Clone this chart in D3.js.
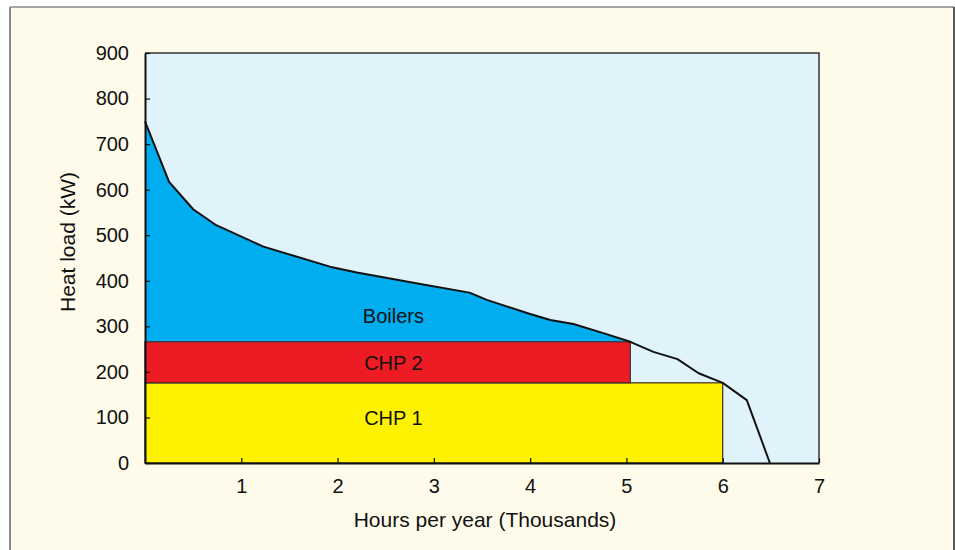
<!DOCTYPE html>
<html>
<head>
<meta charset="utf-8">
<script src="https://cdn.jsdelivr.net/npm/d3@7"></script>
<style>
  html, body { margin: 0; padding: 0; background: #fff; }
  svg { display: block; font-family: "Liberation Sans", Arial, sans-serif; }
</style>
</head>
<body>
<svg id="chart" width="955" height="550"></svg>
<script>
// ── Data ────────────────────────────────────────────────────────────────
// load duration curve: hours (thousands) vs heat load (kW)
const hours = [0, 0.25, 0.5, 0.74, 1.23, 1.92, 2.2, 2.86, 3.37, 3.55, 4.0, 4.21, 4.45, 4.76, 5.04, 5.28, 5.53, 5.75, 6.0, 6.25, 6.49];
const load  = [750, 617, 557, 522, 475, 431, 418, 393, 374, 358, 327, 314, 305, 285, 266, 244, 228, 197, 176, 138, 0];

// CHP units stacked from the bottom
const units  = ['CHP 1', 'CHP 2'];
const unitLo = [0, 176];
const unitHi = [176, 266];
const unitHours = [6.0, 5.04];
const unitColors = ['#fff200', '#ed1c24'];

// band labels (text, kW level where the label sits)
const bandLabels = ['CHP 1', 'CHP 2', 'Boilers'];
const bandLabelLoad = [99, 220, 323];

const xTicks = [1, 2, 3, 4, 5, 6, 7];
const yTicks = [0, 100, 200, 300, 400, 500, 600, 700, 800, 900];

// ── Layout ──────────────────────────────────────────────────────────────
const MARGIN = { top: 53, right: 136, bottom: 87, left: 145 };
const W = 955, H = 550;
const width = W - MARGIN.left - MARGIN.right;
const height = H - MARGIN.top - MARGIN.bottom;
const FONT = '20px';
const TITLE_FONT = '21px';

const svg = d3.select('#chart');

// frame
svg.append('rect')
  .attr('x', 11).attr('y', 7).attr('width', 942).attr('height', 560)
  .attr('fill', '#fffbea');
svg.append('line').attr('x1', 10).attr('x2', 954).attr('y1', 7).attr('y2', 7)
  .attr('stroke', '#8a8a8a').attr('stroke-width', 1.5);
svg.append('line').attr('x1', 10).attr('x2', 10).attr('y1', 7).attr('y2', 550)
  .attr('stroke', '#8a8a8a').attr('stroke-width', 2);
svg.append('line').attr('x1', 954).attr('x2', 954).attr('y1', 7).attr('y2', 550)
  .attr('stroke', '#222').attr('stroke-width', 1.5);

const g = svg.append('g').attr('transform', `translate(${MARGIN.left},${MARGIN.top})`);

const x = d3.scaleLinear().domain([0, 7]).range([0, width]);
const y = d3.scaleLinear().domain([0, 900]).range([height, 0]);

// plot background
g.append('rect').attr('width', width).attr('height', height).attr('fill', '#e0f3fa');

// boilers: area above the CHP band, up to the curve
const pts = hours.map((h, i) => ({ h, v: load[i] }));
const topBand = unitHi[unitHi.length - 1];
const boilerPts = pts.filter(d => d.h <= unitHours[1]);
g.append('path')
  .datum(boilerPts)
  .attr('fill', '#00adee')
  .attr('d', d3.area().x(d => x(d.h)).y0(y(topBand)).y1(d => y(d.v)));

// CHP bars
units.forEach((u, i) => {
  g.append('rect')
    .attr('x', x(0))
    .attr('y', y(unitHi[i]))
    .attr('width', x(unitHours[i]) - x(0))
    .attr('height', y(unitLo[i]) - y(unitHi[i]))
    .attr('fill', unitColors[i])
    .attr('stroke', '#3a2a2a')
    .attr('stroke-width', 1.2);
});

// curve
g.append('path')
  .datum(pts)
  .attr('fill', 'none')
  .attr('stroke', '#111')
  .attr('stroke-width', 2)
  .attr('stroke-linejoin', 'round')
  .attr('d', d3.line().x(d => x(d.h)).y(d => y(d.v)));

// plot border (top / right)
g.append('path')
  .attr('d', `M0,0H${width}V${height}`)
  .attr('fill', 'none').attr('stroke', '#333').attr('stroke-width', 1.5);

// axes — ticks point inward
const xAxis = g.append('g').attr('transform', `translate(0,${height})`)
  .call(d3.axisBottom(x).tickValues(xTicks).tickFormat(d3.format('d'))
    .tickSizeInner(-5).tickSizeOuter(0).tickPadding(16));
const yAxis = g.append('g')
  .call(d3.axisLeft(y).tickValues(yTicks).tickFormat(d3.format('d'))
    .tickSizeInner(-5).tickSizeOuter(0).tickPadding(16));

[xAxis, yAxis].forEach(ax => {
  ax.select('.domain').attr('stroke', '#111').attr('stroke-width', 2);
  ax.selectAll('.tick line').attr('stroke', '#111').attr('stroke-width', 1.2);
  ax.selectAll('text')
    .attr('fill', '#111')
    .attr('font-size', FONT)
    .attr('font-family', '"Liberation Sans", Arial, sans-serif');
});

// labels in the bands
const labelX = x(2.58);
bandLabels.forEach((t, i) => {
  g.append('text')
    .attr('x', labelX)
    .attr('y', y(bandLabelLoad[i]))
    .attr('text-anchor', 'middle').attr('dominant-baseline', 'central')
    .attr('font-size', FONT).attr('fill', '#111').text(t);
});

// axis titles
svg.append('text')
  .attr('x', 485).attr('y', 527)
  .attr('text-anchor', 'middle').attr('font-size', TITLE_FONT).attr('fill', '#111')
  .text('Hours per year (Thousands)');
svg.append('text')
  .attr('transform', 'translate(75,242) rotate(-90)')
  .attr('text-anchor', 'middle').attr('font-size', TITLE_FONT).attr('fill', '#111')
  .text('Heat load (kW)');
</script>
</body>
</html>
